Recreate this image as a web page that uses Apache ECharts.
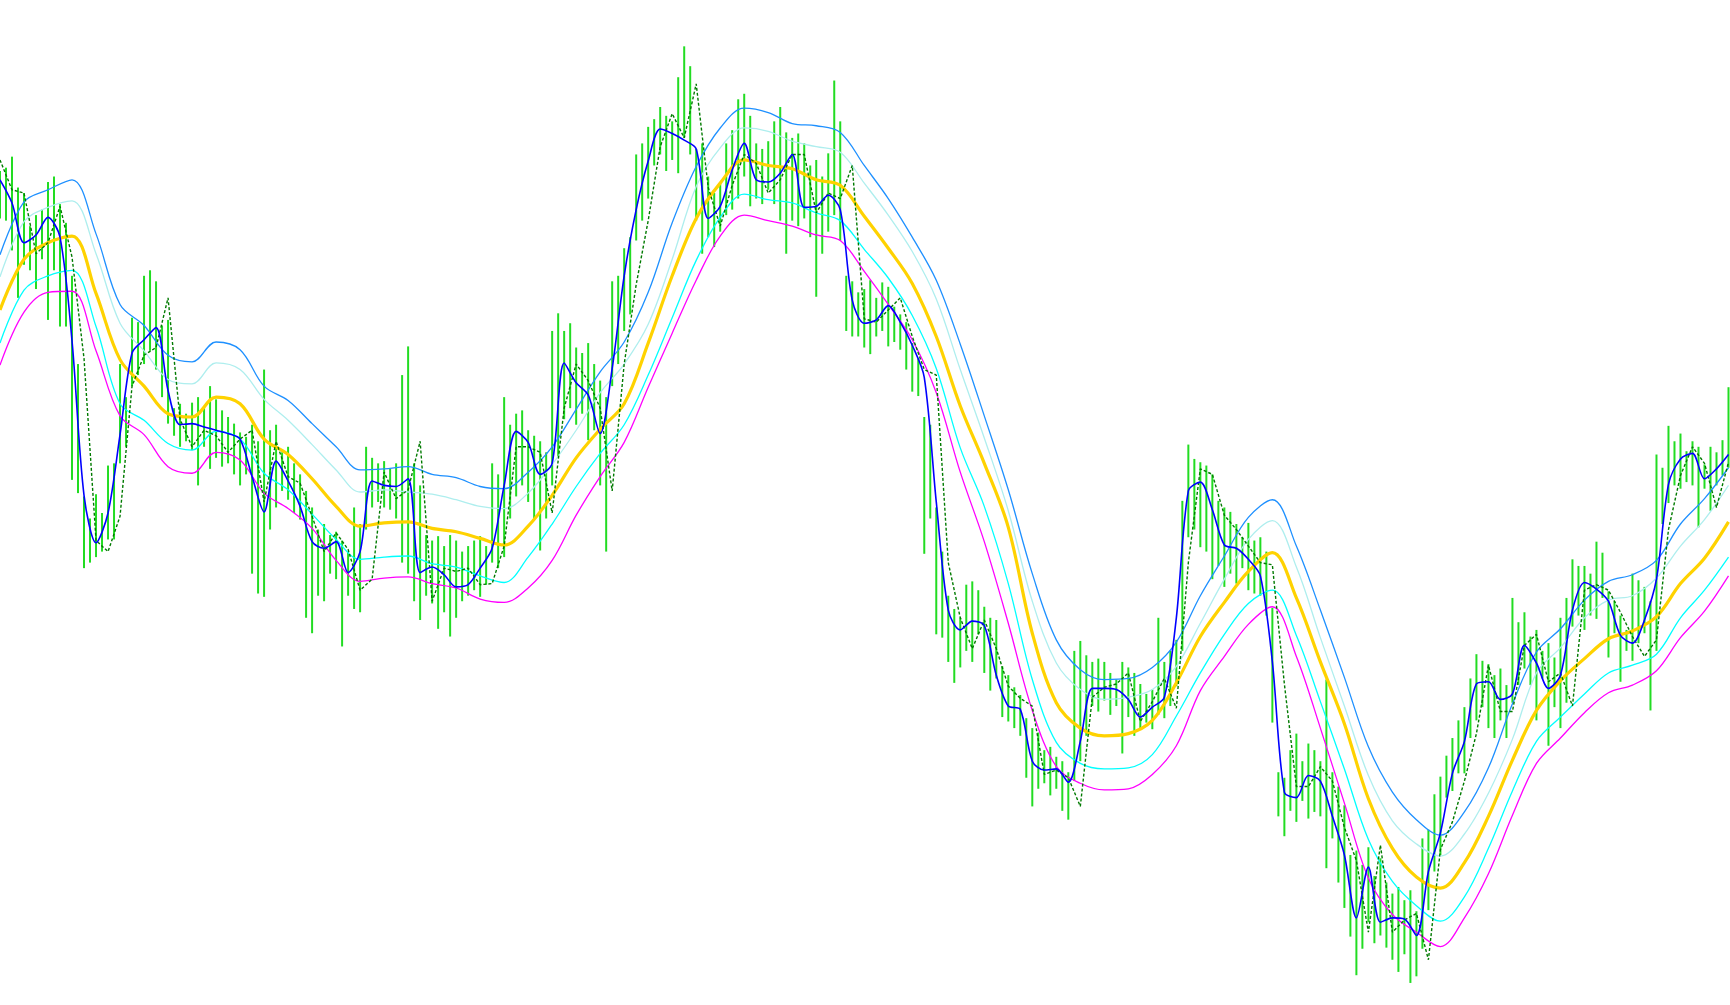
<!DOCTYPE html>
<html>
<head>
<meta charset="utf-8">
<script src="https://cdn.jsdelivr.net/npm/echarts@6/dist/echarts.min.js"></script>
<style>
html,body{margin:0;padding:0;background:#fff;}
#chart{width:1730px;height:1005px;}
</style>
</head>
<body>
<div id="chart"></div>
<script>
// Bar highs / lows (one entry every 2 source bars)
const barHigh = [
845,848,858,830,825,795,805,810,835,840,
815,798,750,670,550,530,552,535,578,580,
670,640,712,708,750,755,745,705,710,630,
634,625,635,640,632,650,638,628,622,616,
608,604,615,600,665,610,615,590,595,580,
570,555,540,520,525,515,518,510,500,540,
525,595,585,580,582,575,580,660,686,580,
560,515,510,514,505,515,510,500,505,510,
514,505,580,570,640,615,625,628,610,605,
600,590,700,716,700,707,685,680,689,670,
655,640,745,750,775,785,860,870,885,892,
903,895,890,930,958,940,865,870,840,825,
835,870,882,910,915,895,870,865,872,890,
903,880,875,879,870,850,855,840,861,927,
890,750,745,735,738,746,730,744,740,722,
715,708,689,675,622,615,540,500,460,448,
440,470,473,465,450,440,438,396,388,377,
370,349,340,336,320,323,314,310,300,410,
419,406,400,403,400,390,384,400,395,390,
380,371,375,440,400,410,420,546,597,584,
581,578,570,546,540,536,525,513,526,510,
513,500,449,300,295,320,335,310,326,320,
310,384,300,287,270,225,229,216,232,206,
222,200,190,196,184,193,174,240,248,280,
296,315,331,347,359,385,407,401,398,388,
394,379,458,436,445,423,429,410,417,404,
440,458,493,487,487,480,509,499,464,455,
442,429,480,474,468,455,588,576,614,600,
607,591,600,595,579,595,590,601,649
];
const barLow = [
802,800,773,730,760,755,738,765,710,755,
704,704,565,553,485,490,495,500,511,511,
580,595,650,660,670,682,665,640,616,605,
595,600,592,560,595,575,585,577,580,570,
560,570,480,462,459,520,540,555,547,535,
529,440,426,460,455,480,475,414,460,448,
445,520,540,545,540,538,530,490,480,455,
438,460,453,430,445,423,440,455,460,465,
459,470,490,485,495,530,550,560,545,530,
501,530,560,586,620,630,615,625,601,610,
560,500,650,670,700,715,782,800,820,850,
860,845,855,843,875,860,800,770,785,776,
790,805,810,820,840,813,820,815,828,815,
800,770,800,795,802,785,731,770,790,805,
782,700,695,695,685,679,695,700,686,690,
683,665,645,641,498,530,425,422,400,381,
395,410,400,425,390,374,385,350,346,340,
333,295,269,285,290,279,285,265,257,292,
310,333,360,355,365,352,360,317,350,333,
339,345,339,352,349,360,378,410,513,520,
504,500,475,487,468,480,471,485,465,462,
460,442,345,260,242,265,255,274,258,264,
260,213,240,200,177,151,116,140,164,145,
152,141,130,119,135,109,115,140,175,210,
225,277,283,299,299,331,347,359,340,331,
347,331,363,379,394,379,347,385,324,359,
340,363,432,442,429,442,439,458,404,426,
382,410,401,417,426,356,410,525,544,560,
557,563,560,522,557,537,560,569,576
];
// Fast smoothed line (one value every 4 source bars)
const fastLine = [
837,816,780,787,803,785,691,551,508,535,
606,680,692,703,646,615,616,613,610,607,
602,568,536,582,564,541,509,503,509,481,
500,564,560,559,566,481,486,479,468,470,
485,503,560,609,599,570,580,671,653,642,
607,666,750,810,854,883,879,873,865,802,
813,846,870,837,835,843,860,812,813,823,
810,728,707,710,723,708,687,658,545,447,
429,437,433,388,360,357,310,302,303,291,
328,376,376,375,366,350,359,368,440,555,
563,538,506,503,493,478,400,282,277,297,
292,260,225,168,214,164,168,167,152,210,
245,299,328,380,382,366,371,415,399,376,
388,447,472,466,455,424,417,438,475,561,
584,589,566,575,588
];
// Shifted close line (dotted), one value every 4 source bars
const shiftedClose = [
855,828,825,770,780,813,767,675,510,500,
532,650,678,685,730,620,595,610,605,590,
602,610,545,600,568,562,532,500,517,502,
465,475,572,548,556,600,455,485,482,485,
470,471,505,595,595,590,535,630,670,655,
630,555,670,742,800,867,897,875,924,830,
795,832,860,852,825,837,860,860,807,825,
820,850,711,708,719,730,695,665,660,490,
440,412,438,412,378,367,360,298,302,295,
269,368,377,380,390,346,364,385,358,490,
575,570,533,520,505,490,488,380,287,287,
305,292,250,220,155,234,155,166,172,130,
230,255,292,335,397,355,355,415,425,382,
390,360,465,470,465,445,423,405,420,520,
569,595,580,540,581
];
// Envelope bands (one value every 8 source bars)
const bandUpper = [
769,817,828,837,788,724,705,678,672,690,
683,650,637,616,595,574,575,577,570,567,
559,557,572,595,629,663,690,735,798,849,
884,902,898,888,886,880,850,820,785,746,
688,623,556,480,420,393,384,385,395,418,
460,496,531,547,505,447,386,323,282,257,
243,264,304,362,409,430,456,473,479,492,
525,548,576
];
const bandUpperInner = [
749,799,812,818,770,707,682,656,652,671,
665,638,619,597,574,554,556,554,552,547,
541,539,553,579,610,644,670,706,765,831,
866,884,881,872,867,862,834,805,772,729,
665,603,537,455,399,375,366,368,375,396,
435,475,511,528,486,422,360,297,256,235,
224,244,281,330,390,413,440,456,460,476,
505,529,560
];
const bandMiddle = [
719,765,780,786,734,674,650,625,622,640,
634,602,588,566,541,523,526,527,521,518,
512,506,523,551,585,611,634,689,750,802,
834,855,850,847,837,832,804,775,743,695,
632,580,522,426,363,340,333,335,347,381,
423,454,482,499,458,400,344,276,231,205,
195,218,260,311,356,383,403,421,428,441,
471,494,527
];
const bandLowerInner = [
689,737,750,755,704,634,619,598,592,609,
602,571,556,534,511,493,495,496,489,486,
478,472,495,525,559,589,615,660,712,764,
803,824,819,816,807,800,774,748,714,666,
594,541,471,384,327,308,303,304,316,351,
390,425,453,465,424,364,303,239,201,179,
165,187,231,283,328,350,371,390,397,407,
440,465,495
];
const bandLower = [
669,717,735,736,682,623,606,577,571,590,
583,553,539,521,492,473,476,477,471,467,
457,454,467,492,533,568,599,649,698,746,
786,805,800,795,787,782,754,724,692,644,
572,509,435,356,305,290,284,285,298,324,
374,405,434,450,405,340,272,204,171,155,
142,168,208,261,308,331,354,372,379,392,
422,446,478
];

const BAR_STEP = 2, LINE_STEP = 4, BAND_STEP = 8;
const toPairs = (arr, step) => arr.map((v, i) => [i * step, v]);

const chart = echarts.init(document.getElementById('chart'), null, {renderer: 'canvas'});

function bandSeries(name, arr, color, width) {
  return {
    name, type: 'line', data: toPairs(arr, BAND_STEP), showSymbol: false, symbol: 'none',
    smooth: 0.35, lineStyle: {color, width}, silent: true, z: 3
  };
}

chart.setOption({
  animation: false,
  backgroundColor: '#ffffff',
  grid: {left: 0, right: 0, top: 0, bottom: 0},
  xAxis: {type: 'value', min: 0, max: 576.5, show: false},
  yAxis: {type: 'value', min: 89, max: 1000, show: false},
  series: [
    {
      name: 'bars', type: 'custom', z: 1, silent: true,
      data: barHigh.map((h, k) => [k * BAR_STEP, barLow[k], h]),
      encode: {x: 0, y: [1, 2]},
      renderItem: function (params, api) {
        const x = api.value(0);
        const lo = api.coord([x, api.value(1)]);
        const hi = api.coord([x, api.value(2)]);
        return {
          type: 'line',
          shape: {x1: lo[0], y1: lo[1], x2: hi[0], y2: hi[1]},
          style: {stroke: '#22dc22', lineWidth: 2}
        };
      }
    },
    bandSeries('upper', bandUpper, '#1e90ff', 1.3),
    bandSeries('upperInner', bandUpperInner, '#aeeeee', 1.3),
    bandSeries('middle', bandMiddle, '#ffd200', 3.2),
    bandSeries('lowerInner', bandLowerInner, '#00ffff', 1.3),
    bandSeries('lower', bandLower, '#ff00ff', 1.3),
    {
      name: 'shifted', type: 'line', data: toPairs(shiftedClose, LINE_STEP), showSymbol: false, symbol: 'none',
      lineStyle: {color: '#007a00', width: 1.4, type: [3, 2]}, z: 4, silent: true
    },
    {
      name: 'fast', type: 'line', data: toPairs(fastLine, LINE_STEP), showSymbol: false, symbol: 'none',
      smooth: 0.3, lineStyle: {color: '#0000ff', width: 1.6}, z: 5, silent: true
    }
  ]
});
</script>
</body>
</html>
